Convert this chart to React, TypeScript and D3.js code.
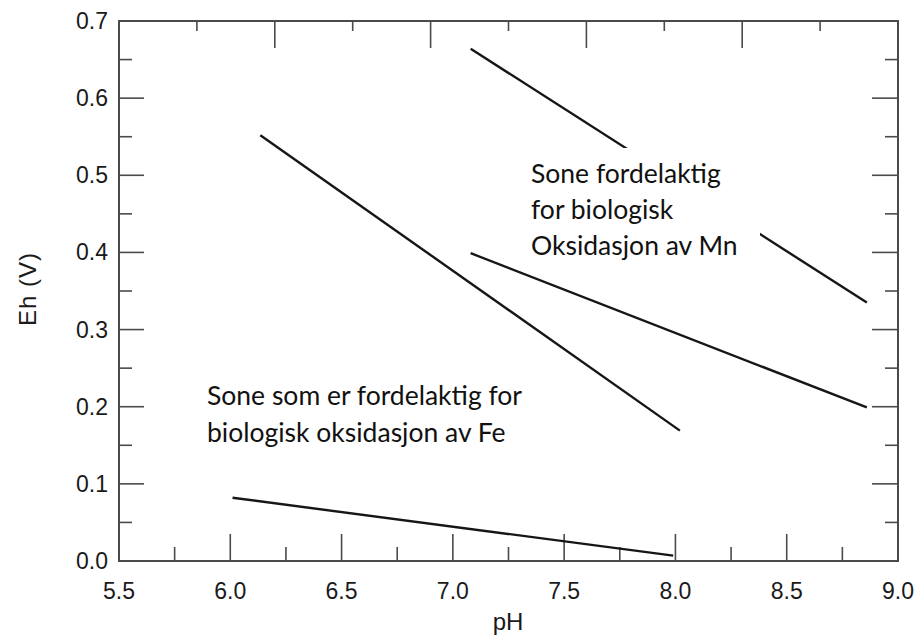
import React from "react";
import * as d3 from "d3";

// ---- data (pH, Eh in volts) ----
const lineMnUpper: [number, number][] = [[7.08, 0.664], [8.86, 0.335]];
const lineFeMnBoundary: [number, number][] = [[6.135, 0.552], [8.02, 0.169]];
const lineMnLower: [number, number][] = [[7.08, 0.399], [8.86, 0.199]];
const lineFeLower: [number, number][] = [[6.01, 0.082], [7.99, 0.007]];
const allLines = [lineMnUpper, lineFeMnBoundary, lineMnLower, lineFeLower];

const xTickLabels = ["5.5", "6.0", "6.5", "7.0", "7.5", "8.0", "8.5", "9.0"];
const yTickLabels = ["0.0", "0.1", "0.2", "0.3", "0.4", "0.5", "0.6", "0.7"];
const mnText = ["Sone fordelaktig", "for biologisk", "Oksidasjon av Mn"];
const feText = ["Sone som er fordelaktig for", "biologisk oksidasjon av Fe"];

const W = 916, H = 638;
const L = 119, R = 898, T = 21, B = 561;

export default function App() {
  const x = d3.scaleLinear().domain([5.5, 9.0]).range([L, R]);
  const y = d3.scaleLinear().domain([0, 0.7]).range([B, T]);
  const line = d3.line<[number, number]>().x(d => x(d[0])).y(d => y(d[1]));

  const xMinor = d3.range(5.75, 8.9, 0.25);
  const yMinor = d3.range(0.05, 0.69, 0.05);
  const topTicks = d3.range(1, 10).map(i => 5.5 + i * 0.35);
  const isMajor = (v: number, step: number) => Math.abs(v / step - Math.round(v / step)) < 1e-6;

  const axisColor = "#4a4a4a";
  const tickFont = "'Liberation Sans', Arial, Helvetica, sans-serif";
  const textFont = "Lato, 'Open Sans', sans-serif";

  return (
    <svg width={W} height={H} style={{ position: "absolute", left: 0, top: 0, background: "#fff" }}>
      <rect x={0} y={0} width={W} height={H} fill="#fff" />
      {/* frame */}
      <rect x={L} y={T} width={R - L} height={B - T} fill="none" stroke={axisColor} strokeWidth={2} />
      {/* bottom ticks */}
      {xMinor.map((v, i) => (
        <line key={"bx" + i} x1={x(v)} x2={x(v)} y1={B} y2={B - (isMajor(v, 0.5) ? 27 : 14)} stroke={axisColor} strokeWidth={1.6} />
      ))}
      {/* top ticks */}
      {topTicks.map((v, i) => (
        <line key={"tx" + i} x1={x(v)} x2={x(v)} y1={T} y2={T + (i % 2 === 0 ? 10 : 27)} stroke={axisColor} strokeWidth={1.6} />
      ))}
      {/* left & right ticks */}
      {yMinor.map((v, i) => (
        <g key={"y" + i}>
          <line x1={L} x2={L + (isMajor(v, 0.1) ? 25 : 13)} y1={y(v)} y2={y(v)} stroke={axisColor} strokeWidth={1.6} />
          <line x1={R} x2={R - (isMajor(v, 0.1) ? 26 : 13)} y1={y(v)} y2={y(v)} stroke={axisColor} strokeWidth={1.6} />
        </g>
      ))}
      {/* tick labels */}
      {xTickLabels.map(t => (
        <text key={"xl" + t} x={x(+t)} y={599} textAnchor="middle" fontFamily={tickFont} fontSize={23} fill="#1a1a1a">{t}</text>
      ))}
      {yTickLabels.map(t => (
        <text key={"yl" + t} x={108} y={y(+t)} dy="0.35em" textAnchor="end" fontFamily={tickFont} fontSize={23} fill="#1a1a1a">{t}</text>
      ))}
      {/* axis titles */}
      <text x={508} y={630} textAnchor="middle" fontFamily={tickFont} fontSize={24} fill="#1a1a1a">pH</text>
      <text transform={`translate(36,289) rotate(-90)`} textAnchor="middle" fontFamily={tickFont} fontSize={24} letterSpacing={1} fill="#1a1a1a">Eh (V)</text>
      {/* data lines */}
      {allLines.map((d, i) => (
        <path key={"ln" + i} d={line(d) || ""} fill="none" stroke="#161616" strokeWidth={2.4} />
      ))}
      {/* text box (white background hides part of the line) */}
      <rect x={520} y={148} width={240} height={112} fill="#fff" />
      {mnText.map((s, i) => (
        <text key={"mn" + i} x={531} y={183 + i * 36} fontFamily={textFont} fontSize={26.5} fill="#111">{s}</text>
      ))}
      {feText.map((s, i) => (
        <text key={"fe" + i} x={207} y={405 + i * 37} fontFamily={textFont} fontSize={26.5} fill="#111">{s}</text>
      ))}
    </svg>
  );
}
